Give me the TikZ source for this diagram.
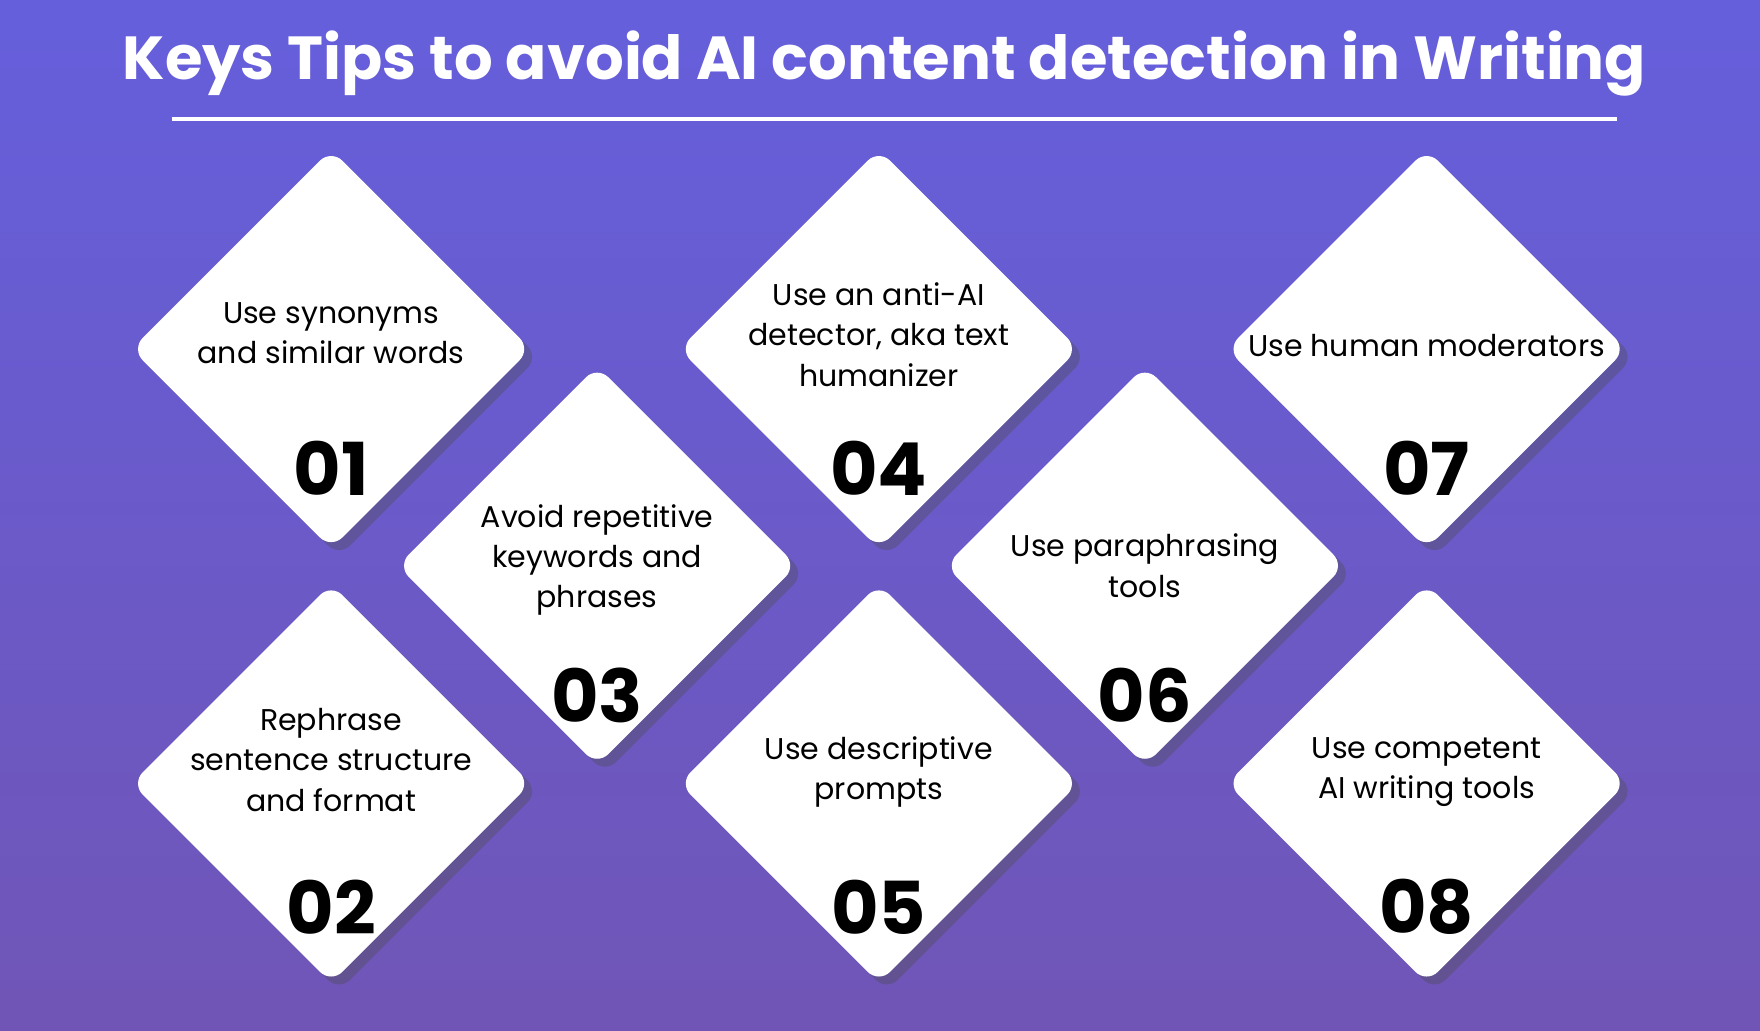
\documentclass[tikz,border=0pt]{standalone}
\usepackage{fontspec}
\setmainfont{Poppins}
\newfontfamily\tipbold{Poppins}[FakeBold=0]
\usetikzlibrary{shapes.geometric,shadows}
\definecolor{bgtop}{HTML}{655FDC}
\definecolor{bgbot}{HTML}{7055B6}
\begin{document}
\begin{tikzpicture}[x=0.01cm, y=-0.01cm]
  \tikzset{tipbox/.style={diamond, aspect=1, fill=white, draw=none, rounded corners=4pt,
      minimum width=3.56cm, minimum height=3.56cm, inner sep=0pt,
      drop shadow={shadow xshift=2pt, shadow yshift=-2pt, opacity=0.35, fill=black!70}},
    tiptext/.style={align=center, font=\fontsize{7.6}{10.2}\selectfont, text=black},
    tipnum/.style={font=\fontsize{18.5}{20}\selectfont\bfseries, text=black}}
  % hintergrund
  \shade[top color=bgtop, bottom color=bgbot] (0,0) rectangle (1568,918);
  \useasboundingbox (0,0) rectangle (1568,918);
  % titel
  \node[font=\fontsize{15.4}{18}\selectfont\bfseries, text=white] (title) at (788,57)
    {Keys Tips to avoid AI content detection in Writing};
  \coordinate (lineL) at (153,106);
  \coordinate (lineR) at (1441,106);
  \draw[white, line width=1pt] (lineL) -- (lineR);
  % rauten
  \foreach \n/\cx/\cy/\ty/\ny/\txt in {
      01/295/311/-14/106/{Use synonyms\\and similar words},
      02/295/698/-21/110/{Rephrase\\sentence structure\\and format},
      03/532/504/-5/116/{Avoid repetitive\\keywords and\\phrases},
      04/783/311/-13/106/{Use an anti-AI\\detector, aka text\\humanizer},
      05/783/698/-10/110/{Use descriptive\\prompts},
      06/1020/504/0/116/{Use paraphrasing\\tools},
      07/1271/311/-3/106/{Use human moderators},
      08/1271/698/-10/110/{Use competent\\AI writing tools}} {
    \node[tipbox] (tip\n) at (\cx,\cy) {};
    \node[tiptext] (txt\n) at ([yshift=-\ty*0.01cm]tip\n.center) {\txt};
    \node[tipnum] (num\n) at ([yshift=-\ny*0.01cm]tip\n.center) {\n};
  }
\end{tikzpicture}
\end{document}
